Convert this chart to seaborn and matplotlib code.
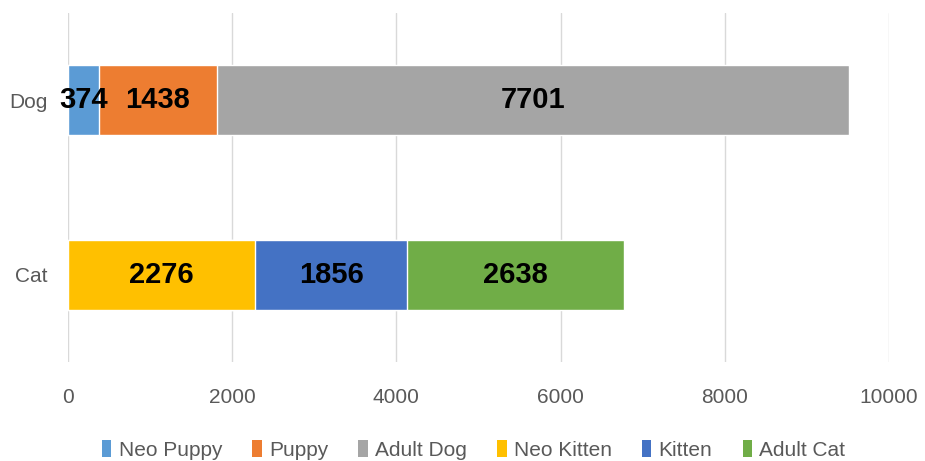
import matplotlib
matplotlib.use("Agg")
import matplotlib.pyplot as plt
import seaborn as sns
import pandas as pd
from matplotlib.patches import Patch

categories = ["Dog", "Cat"]
series_names = ["Neo Puppy", "Puppy", "Adult Dog", "Neo Kitten", "Kitten", "Adult Cat"]
series_cat = ["Dog", "Dog", "Dog", "Cat", "Cat", "Cat"]
series_values = [374, 1438, 7701, 2276, 1856, 2638]
colors = ["#5B9BD5", "#ED7D31", "#A5A5A5", "#FFC000", "#4472C4", "#70AD47"]
x_ticks = [0, 2000, 4000, 6000, 8000, 10000]

sns.set_theme(style="white")
plt.rcParams["font.family"] = ["Liberation Sans", "DejaVu Sans"]

df = pd.DataFrame({"series": series_names, "cat": series_cat, "value": series_values, "color": colors})
df["end"] = df.groupby("cat")["value"].cumsum()
df["start"] = df["end"] - df["value"]

fig = plt.figure(figsize=(9.25, 4.61), dpi=100)
ax = fig.add_axes([0.0735, 0.2148, 0.8875, 0.757])

# draw cumulative bars from the outermost segment inward so they stack
for i in reversed(range(len(df))):
    row = df.iloc[i]
    sub = pd.DataFrame({"cat": [row["cat"]], "end": [row["end"]]})
    sns.barplot(data=sub, x="end", y="cat", order=categories, color=row["color"],
                orient="h", width=0.4, saturation=1, ax=ax, errorbar=None)

for i, row in df.iterrows():
    yi = categories.index(row["cat"])
    ax.text((row["start"] + row["end"]) / 2, yi, f"{row['value']}", ha="center", va="center",
            fontsize=21, fontweight="bold", color="black")

ax.set_xlim(0, 10000)
ax.set_ylim(1.5, -0.5)
ax.set_xticks(x_ticks)
ax.set_xticklabels([str(t) for t in x_ticks])
ax.set_xlabel("")
ax.set_ylabel("")
ax.grid(axis="x", color="#D9D9D9", linewidth=1)
ax.set_axisbelow(True)
for s in ax.spines.values():
    s.set_visible(False)
ax.tick_params(axis="x", colors="#595959", labelsize=15, length=0, pad=19)
ax.tick_params(axis="y", colors="#595959", labelsize=15, length=0, pad=15)

handles = [Patch(facecolor=c, edgecolor="none") for c in colors]
leg = fig.legend(handles, series_names, loc="center", bbox_to_anchor=(0.512, 0.024), ncol=6,
                 frameon=False, fontsize=15, handlelength=0.45, handleheight=0.85,
                 handletextpad=0.35, columnspacing=1.45, labelcolor="#595959")

fig.savefig("out.png", dpi=100)
